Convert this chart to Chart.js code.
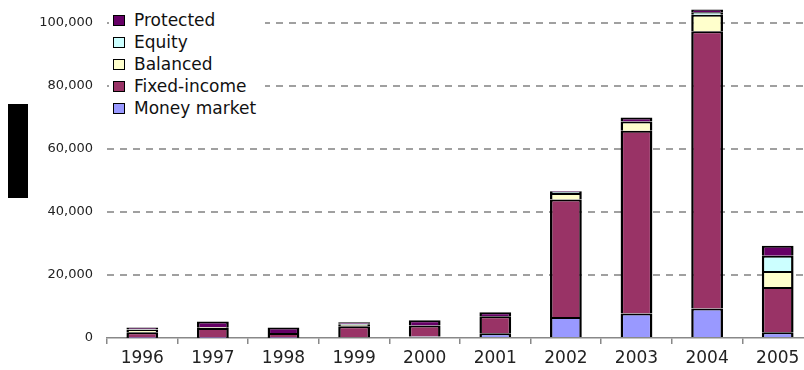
<!DOCTYPE html>
<html>
<head>
<meta charset="utf-8">
<script src="https://cdn.jsdelivr.net/npm/chart.js@4.4.1/dist/chart.umd.min.js"></script>
<style>
    html, body { margin: 0; padding: 0; background: #fff; }
    #frame { position: relative; width: 804px; height: 370px; overflow: hidden; }
    #holder { position: absolute; left: 0; top: 0; width: 820px; height: 370px; }
    #axis-mark { position: absolute; left: 8px; top: 104px; width: 20px; height: 94px; background: #000; }
    #legend {
        position: absolute; left: 109px; top: 9px; width: 156px; height: 110px;
        background: #fff; font-family: 'DejaVu Sans', sans-serif; font-size: 17px; color: #111;
    }
    #legend div { height: 22px; line-height: 22px; display: flex; align-items: center; }
    #legend span.box {
        display: inline-block; width: 10px; height: 9px; border: 1.5px solid #000;
        margin: 0 9px 0 4px;
    }
</style>
</head>
<body>
<div id="frame">
    <div id="holder"><canvas id="assets-chart"></canvas></div>
    <div id="axis-mark"></div>
    <div id="legend"></div>
</div>
<script>
const years = ['1996', '1997', '1998', '1999', '2000', '2001', '2002', '2003', '2004', '2005'];

const moneyMarket = [100, 100, 100, 200, 500, 1500, 6700, 7800, 9400, 1800];
const fixedIncome = [1700, 3100, 1500, 3500, 3500, 5400, 37300, 58000, 88000, 14400];
const balanced = [800, 200, 0, 500, 0, 0, 2000, 2900, 5200, 5100];
const equity = [200, 100, 0, 300, 0, 0, 400, 0, 800, 4800];
const protectedFunds = [500, 1700, 1700, 500, 1600, 1300, 300, 1300, 900, 3200];

const yTicks = [0, 20000, 40000, 60000, 80000, 100000];

const series = [
    { label: 'Money market', data: moneyMarket, color: '#9999ff' },
    { label: 'Fixed-income', data: fixedIncome, color: '#993366' },
    { label: 'Balanced', data: balanced, color: '#ffffcc' },
    { label: 'Equity', data: equity, color: '#ccffff' },
    { label: 'Protected', data: protectedFunds, color: '#660066' }
];

// legend sits inside the plot, top series first
const legendEl = document.getElementById('legend');
series.slice().reverse().forEach(s => {
    const row = document.createElement('div');
    const box = document.createElement('span');
    box.className = 'box';
    box.style.background = s.color;
    row.appendChild(box);
    row.appendChild(document.createTextNode(s.label));
    legendEl.appendChild(row);
});

Chart.defaults.font.family = "'DejaVu Sans', sans-serif";

new Chart(document.getElementById('assets-chart'), {
    type: 'bar',
    data: {
        labels: years,
        datasets: series.map(s => ({
            label: s.label,
            data: s.data,
            backgroundColor: s.color,
            borderColor: '#000',
            // each segment carries its own top edge, so joins stay thin
            borderWidth: { top: 2, bottom: 0, left: 2.5, right: 2.5 },
            borderSkipped: false,
            categoryPercentage: 1,
            barPercentage: 0.45,
            clip: false
        }))
    },
    options: {
        responsive: true,
        maintainAspectRatio: false,
        animation: false,
        layout: { padding: { top: 23, right: 7, left: 0, bottom: 0 } },
        plugins: {
            legend: { display: false },
            tooltip: { enabled: false }
        },
        scales: {
            x: {
                stacked: true,
                offset: true,
                grid: {
                    offset: true,
                    drawOnChartArea: false,
                    tickLength: 6,
                    color: '#888',
                    lineWidth: 1.5
                },
                border: { display: true, color: '#888', width: 1.5 },
                ticks: { color: '#222', font: { size: 17 }, padding: 4 },
                afterFit: scale => { scale.height = 32; }
            },
            y: {
                stacked: true,
                min: 0,
                max: 100000,
                afterBuildTicks: scale => { scale.ticks = yTicks.map(v => ({ value: v })); },
                grid: {
                    drawTicks: false,
                    color: ctx => ctx.tick && ctx.tick.value === 0 ? 'rgba(0,0,0,0)' : '#a0a0a0',
                    lineWidth: 2
                },
                border: { display: false, dash: [7, 6] },
                ticks: {
                    color: '#222',
                    font: { size: 13 },
                    padding: 14,
                    callback: v => v.toLocaleString('en-US')
                },
                afterFit: scale => { scale.width = 107; }
            }
        }
    }
});
</script>
</body>
</html>
